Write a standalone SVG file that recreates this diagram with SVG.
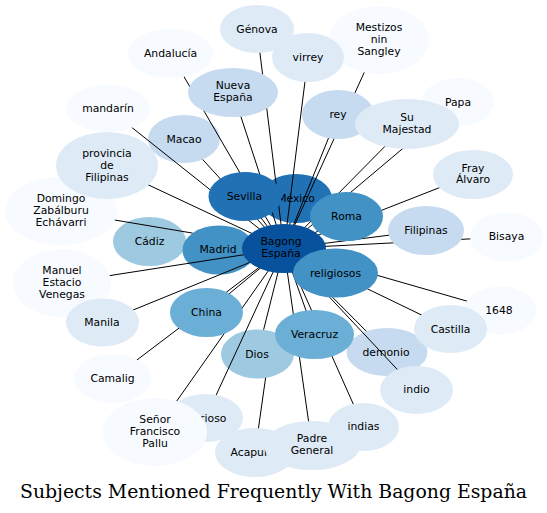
<svg xmlns="http://www.w3.org/2000/svg" width="547" height="513" viewBox="0 0 547 513">
<style>
  .n text { font-family: "DejaVu Sans", "Liberation Sans", sans-serif; font-size: 10.8px; text-anchor: middle; fill: #000; }
  .b1 { fill: #f7fbff; } .b2 { fill: #deebf7; } .b3 { fill: #c6dbef; } .b4 { fill: #9ecae1; }
  .b5 { fill: #6baed6; } .b6 { fill: #4292c6; } .b7 { fill: #2171b5; } .b8 { fill: #08519c; }
  #edges path { stroke: #000; stroke-width: 1; fill: none; }
  .title { font-family: "DejaVu Serif", "Liberation Serif", serif; font-size: 18.8px; text-anchor: middle; fill: #000; }
</style>
<rect width="547" height="513" fill="#fff"/>

<!-- nodes lying beneath connectors -->
<g id="node-cadiz" class="n"><ellipse class="b4" cx="149.5" cy="241.5" rx="36.5" ry="24.5"/><text x="149.5" y="245">Cádiz</text></g>
<g id="node-madrid" class="n"><ellipse class="b6" cx="219" cy="250" rx="36.5" ry="24.5"/><text x="218" y="253">Madrid</text></g>
<g id="node-mexico" class="n"><ellipse class="b7" cx="296" cy="198.5" rx="36" ry="24.5"/><text x="296" y="202">México</text></g>
<g id="node-macao" class="n"><ellipse class="b3" cx="184" cy="139" rx="36" ry="24"/><text x="184" y="142.5">Macao</text></g>
<g id="node-demonio" class="n"><ellipse class="b3" cx="387" cy="352" rx="40.5" ry="24"/><text x="386" y="355.5">demonio</text></g>
<g id="node-dios" class="n"><ellipse class="b4" cx="257.5" cy="354" rx="36.5" ry="24.5"/><text x="257" y="357.5">Dios</text></g>

<g id="edges">
  <path d="M284,248.5 L245,196.5"/>
  <path d="M284,248.5 L346.5,216.5"/>
  <path d="M284,248.5 L335.5,273"/>
  <path d="M284,248.5 L206.5,312.5"/>
  <path d="M284,248.5 L314.5,334.5"/>
  <path d="M284,248.5 L426,230.5"/>
  <path d="M284,248.5 L338,114.5"/>
  <path d="M284,248.5 L407,124"/>
  <path d="M284,248.5 L233,92.5"/>
  <path d="M284,248.5 L107,165.5"/>
  <path d="M284,248.5 L257,29"/>
  <path d="M284,248.5 L308,57.5"/>
  <path d="M284,248.5 L379,40"/>
  <path d="M284,248.5 L170.5,53.5"/>
  <path d="M284,248.5 L108,108.5"/>
  <path d="M284,248.5 L458,102"/>
  <path d="M284,248.5 L473,174.5"/>
  <path d="M284,248.5 L506.5,237"/>
  <path d="M284,248.5 L499.5,310.5"/>
  <path d="M284,248.5 L450.5,329"/>
  <path d="M284,248.5 L416.5,390"/>
  <path d="M284,248.5 L363.5,427"/>
  <path d="M284,248.5 L312,445.5"/>
  <path d="M284,248.5 L205.5,418"/>
  <path d="M284,248.5 L155,432"/>
  <path d="M284,248.5 L112.5,378.5"/>
  <path d="M284,248.5 L102.5,322.5"/>
  <path d="M284,248.5 L62,283"/>
  <path d="M61,211 L192.6,233.1"/>
  <path d="M265.6,377.8 L255,452.5"/>
  <path d="M284,248.5 L290.2,222.7"/>
  <path d="M284,248.5 L202.7,159.5"/>
  <path d="M284,248.5 L366.4,331.3"/>
  <path d="M284,248.5 L263.6,329.8"/>
</g>

<g id="node-bagong" class="n"><ellipse class="b8" cx="284" cy="248.5" rx="42" ry="24.5"/><text x="281" y="245.3">Bagong</text><text x="281" y="257.3">España</text></g>

<g id="node-genova" class="n"><ellipse class="b2" cx="257" cy="29" rx="37" ry="24"/><text x="257" y="32.5">Génova</text></g>
<g id="node-mestizos" class="n"><ellipse class="b1" cx="379" cy="40" rx="50" ry="34"/><text x="379" y="30.8">Mestizos</text><text x="379" y="42.8">nin</text><text x="379" y="54.8">Sangley</text></g>
<g id="node-virrey" class="n"><ellipse class="b2" cx="308" cy="57.5" rx="36" ry="24.5"/><text x="308" y="61">virrey</text></g>
<g id="node-papa" class="n"><ellipse class="b1" cx="458" cy="102" rx="36" ry="24"/><text x="458" y="105.5">Papa</text></g>
<g id="node-rey" class="n"><ellipse class="b3" cx="338" cy="114.5" rx="36" ry="24.5"/><text x="338" y="118">rey</text></g>
<g id="node-sumajestad" class="n"><ellipse class="b2" cx="407" cy="124" rx="52" ry="25"/><text x="407" y="120.8">Su</text><text x="407" y="132.8">Majestad</text></g>
<g id="node-andalucia" class="n"><ellipse class="b1" cx="170.5" cy="53.5" rx="42.5" ry="24.5"/><text x="170.5" y="57">Andalucía</text></g>
<g id="node-nuevaespana" class="n"><ellipse class="b3" cx="233" cy="92.5" rx="45" ry="24.5"/><text x="233" y="89.3">Nueva</text><text x="233" y="101.3">España</text></g>
<g id="node-mandarin" class="n"><ellipse class="b1" cx="108" cy="108.5" rx="42" ry="23.5"/><text x="108" y="112">mandarín</text></g>
<g id="node-domingo" class="n"><ellipse class="b1" cx="61" cy="211" rx="56" ry="34"/><text x="61" y="201.8">Domingo</text><text x="61" y="213.8">Zabálburu</text><text x="61" y="225.8">Echávarri</text></g>
<g id="node-provincia" class="n"><ellipse class="b2" cx="107" cy="165.5" rx="51" ry="33.5"/><text x="107" y="156.5">provincia</text><text x="107" y="168.5">de</text><text x="107" y="180.5">Filipinas</text></g>
<g id="node-manuel" class="n"><ellipse class="b1" cx="62" cy="283" rx="49" ry="34"/><text x="62" y="273.8">Manuel</text><text x="62" y="285.8">Estacio</text><text x="62" y="297.8">Venegas</text></g>
<g id="node-manila" class="n"><ellipse class="b2" cx="102.5" cy="322.5" rx="36.5" ry="24"/><text x="102" y="326">Manila</text></g>
<g id="node-camalig" class="n"><ellipse class="b1" cx="112.5" cy="378.5" rx="38.5" ry="24.5"/><text x="112.5" y="382">Camalig</text></g>
<g id="node-acapulco" class="n"><ellipse class="b2" cx="255" cy="452.5" rx="40" ry="24.5"/><text x="255" y="456">Acapulco</text></g>
<g id="node-glorioso" class="n"><ellipse class="b2" cx="205.5" cy="418" rx="37.5" ry="24"/><text x="205" y="421.5">glorioso</text></g>
<g id="node-senor" class="n"><ellipse class="b1" cx="155" cy="432" rx="52" ry="34"/><text x="155" y="422.8">Señor</text><text x="155" y="434.8">Francisco</text><text x="155" y="446.8">Pallu</text></g>
<g id="node-padregeneral" class="n"><ellipse class="b2" cx="312" cy="445.5" rx="48" ry="24.5"/><text x="312" y="442.3">Padre</text><text x="312" y="454.3">General</text></g>
<g id="node-indias" class="n"><ellipse class="b2" cx="363.5" cy="427" rx="35.5" ry="24"/><text x="363.5" y="430.3">indias</text></g>
<g id="node-1648" class="n"><ellipse class="b1" cx="500" cy="310.5" rx="36" ry="24"/><text x="499" y="314">1648</text></g>
<g id="node-castilla" class="n"><ellipse class="b2" cx="450.5" cy="329" rx="36.5" ry="24"/><text x="450.5" y="332.5">Castilla</text></g>
<g id="node-indio" class="n"><ellipse class="b2" cx="416.5" cy="390" rx="36.5" ry="24"/><text x="416.5" y="393.3">indio</text></g>
<g id="node-fray" class="n"><ellipse class="b2" cx="473" cy="174.5" rx="40" ry="24.5"/><text x="473" y="171.5">Fray</text><text x="473" y="183.3">Álvaro</text></g>
<g id="node-bisaya" class="n"><ellipse class="b1" cx="506.5" cy="237" rx="36.5" ry="24.5"/><text x="506.5" y="240.3">Bisaya</text></g>
<g id="node-filipinas" class="n"><ellipse class="b3" cx="426" cy="230.5" rx="38" ry="24.5"/><text x="426" y="233.8">Filipinas</text></g>
<g id="node-sevilla" class="n"><ellipse class="b7" cx="245" cy="196.5" rx="36.5" ry="24.5"/><text x="244.5" y="199.8">Sevilla</text></g>
<g id="node-roma" class="n"><ellipse class="b6" cx="346.5" cy="216.5" rx="36.5" ry="24.5"/><text x="346.5" y="220">Roma</text></g>
<g id="node-religiosos" class="n"><ellipse class="b6" cx="335.5" cy="273" rx="42.5" ry="24.5"/><text x="335.5" y="276.5">religiosos</text></g>
<g id="node-china" class="n"><ellipse class="b5" cx="206.5" cy="312.5" rx="36.5" ry="24.5"/><text x="206.5" y="316">China</text></g>
<g id="node-veracruz" class="n"><ellipse class="b5" cx="314.5" cy="334.5" rx="39.5" ry="24.5"/><text x="314.5" y="337.8">Veracruz</text></g>

<text class="title" x="273.5" y="497.5" textLength="507" lengthAdjust="spacingAndGlyphs">Subjects Mentioned Frequently With Bagong España</text>
</svg>
